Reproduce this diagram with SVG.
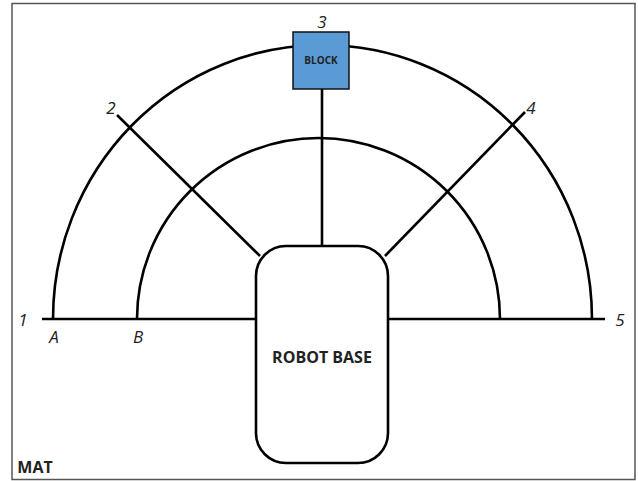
<svg xmlns="http://www.w3.org/2000/svg" width="638" height="481" viewBox="0 0 638 481">
<style>
.ln{fill:none;stroke:#000;stroke-width:2.6;stroke-linecap:butt}
.num{font-family:"Open Sans","Liberation Sans",sans-serif;font-style:italic;font-size:17px;fill:#222;text-anchor:middle}
.lbl{font-family:"Open Sans","Liberation Sans",sans-serif;font-weight:bold;fill:#222;text-anchor:middle}
</style>
<rect width="638" height="481" fill="#fff"/>
<g id="mat">
<rect x="12" y="3.5" width="623" height="476" fill="none" stroke="#555" stroke-width="1.5"/>
<text class="lbl" x="35" y="473" font-size="16">MAT</text>
</g>
<g id="connectors">
<path class="ln" d="M 53 319 A 269.5 274 0 0 1 592 319"/>
<path class="ln" d="M 137 319 A 181.5 181 0 0 1 500 319"/>
<line class="ln" x1="42" y1="319" x2="256" y2="319"/>
<line class="ln" x1="388" y1="319" x2="605" y2="319"/>
<line class="ln" x1="322" y1="89" x2="322" y2="246"/>
<line class="ln" x1="117" y1="115" x2="260" y2="256"/>
<line class="ln" x1="525" y1="112" x2="385" y2="256"/>
</g>
<g id="robot-base">
<rect x="256" y="246" width="132" height="217" rx="30" ry="30" fill="#fff" stroke="#000" stroke-width="2.6"/>
<text class="lbl" x="322" y="363" font-size="16">ROBOT BASE</text>
</g>
<g id="block">
<rect x="293" y="32" width="56" height="57" fill="#5b9bd5" stroke="#111" stroke-width="1.5"/>
<text class="lbl" x="321" y="64" font-size="10">BLOCK</text>
</g>
<g id="labels">
<text class="num" x="322" y="28">3</text>
<text class="num" x="111" y="114">2</text>
<text class="num" x="531" y="114">4</text>
<text class="num" x="23" y="326">1</text>
<text class="num" x="620" y="326">5</text>
<text class="num" x="54" y="343">A</text>
<text class="num" x="138" y="343">B</text>
</g>
</svg>
